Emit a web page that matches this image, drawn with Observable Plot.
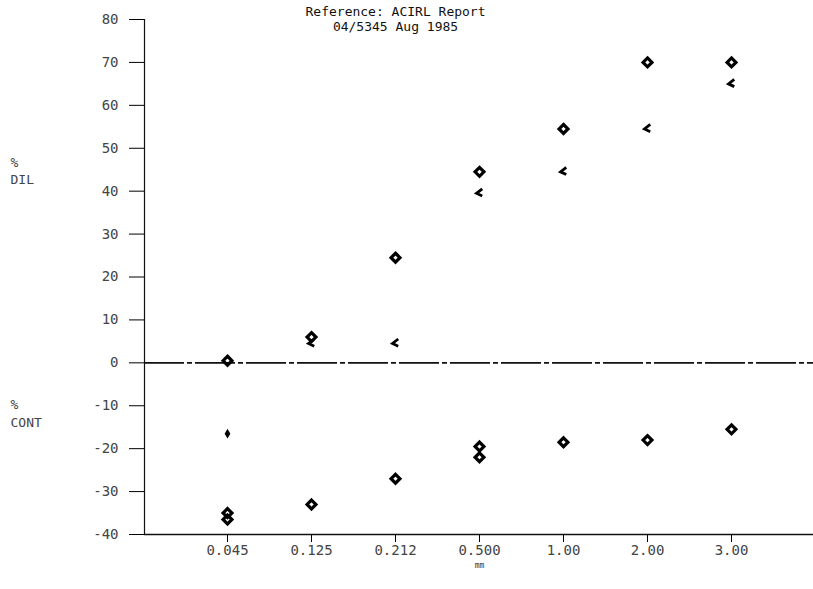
<!DOCTYPE html>
<html>
<head>
<meta charset="utf-8">
<script src="https://cdn.jsdelivr.net/npm/d3@7"></script>
<script src="https://cdn.jsdelivr.net/npm/@observablehq/plot@0.6"></script>
<style>
  html, body { margin: 0; padding: 0; background: #fff; }
  #chart svg { display: block; }
</style>
</head>
<body>
<div id="chart"></div>
<script>
// ---- data ----
const categories = ["0.045", "0.125", "0.212", "0.500", "1.00", "2.00", "3.00"];
const dilDiamond  = [0.5, 6, 24.5, 44.5, 54.5, 70, 70];
const dilChevron  = [null, 4.5, 4.5, 39.5, 44.5, 54.5, 65];
const contDiamond = [-35, -33, -27, -19.5, -18.5, -18, -15.5];
const contDiamond2 = [-36.5, null, null, -22, null, null, null];
const contSmall   = [-16.5, null, null, null, null, null, null];
const yTicks = [80, 70, 60, 50, 40, 30, 20, 10, 0, -10, -20, -30, -40];
const titleText = "Reference: ACIRL Report\n04/5345 Aug 1985";
const sideLabels = [{text: "%\nDIL", v: 45}, {text: "%\nCONT", v: -11.5}];
const xUnit = "mm";

const toRows = (vals) => categories.map((c, i) => ({c, v: vals[i]})).filter(d => d.v != null);

const chevron = {
  draw(ctx, size) {
    const r = Math.sqrt(size / Math.PI);
    ctx.moveTo(r * 0.55, -r * 0.9);
    ctx.lineTo(-r * 0.6, 0);
    ctx.lineTo(r * 0.55, r * 0.55);
  }
};

const font = "'DejaVu Sans Mono', monospace";

const chart = Plot.plot({
  width: 813,
  height: 589,
  marginLeft: 144,
  marginRight: 0,
  marginTop: 19,
  marginBottom: 55,
  style: {fontFamily: font, fontSize: "14px", color: "#000", background: "#fff"},
  x: {type: "point", domain: categories, padding: 0.95},
  y: {domain: [-40, 80]},
  marks: [
    Plot.axisY({ticks: yTicks, tickSize: 15, tickPadding: 11, label: null, fill: "#444", fontSize: 14, tickFormat: d => d}),
    Plot.axisX({tickSize: 8, tickPadding: 3, label: null, fill: "#444", fontSize: 14}),
    Plot.frame({anchor: "left", stroke: "#111", strokeWidth: 1.2}),
    Plot.frame({anchor: "bottom", stroke: "#111", strokeWidth: 1.5}),
    Plot.ruleY([0], {stroke: "#111", strokeWidth: 1.6, strokeDasharray: "40,3,5,3"}),
    Plot.text([xUnit], {x: () => "0.500", text: d => d, frameAnchor: "bottom", lineAnchor: "top", dy: 28, fontSize: 8, fill: "#333"}),
    Plot.text([titleText], {x: () => "0.212", text: d => d, frameAnchor: "top", lineAnchor: "top", dy: -14, lineHeight: 1.15, fontSize: 13, fill: "#111"}),
    Plot.text(sideLabels, {y: "v", text: "text", frameAnchor: "left", dx: -134, textAnchor: "start", lineHeight: 1.35, fontSize: 13, fill: "#444"}),
    Plot.dot(toRows(dilDiamond), {x: "c", y: "v", symbol: "diamond2", r: 4, stroke: "#000", strokeWidth: 3.2}),
    Plot.dot(toRows(dilChevron), {x: "c", y: "v", symbol: chevron, r: 5, stroke: "#000", strokeWidth: 2.8, fill: "none"}),
    Plot.dot(toRows(contDiamond), {x: "c", y: "v", symbol: "diamond2", r: 4, stroke: "#000", strokeWidth: 3.2}),
    Plot.dot(toRows(contDiamond2), {x: "c", y: "v", symbol: "diamond2", r: 4, stroke: "#000", strokeWidth: 3.2}),
    Plot.dot(toRows(contSmall), {x: "c", y: "v", symbol: "diamond", r: 3, fill: "#000"})
  ]
});
document.getElementById("chart").appendChild(chart);
</script>
</body>
</html>
